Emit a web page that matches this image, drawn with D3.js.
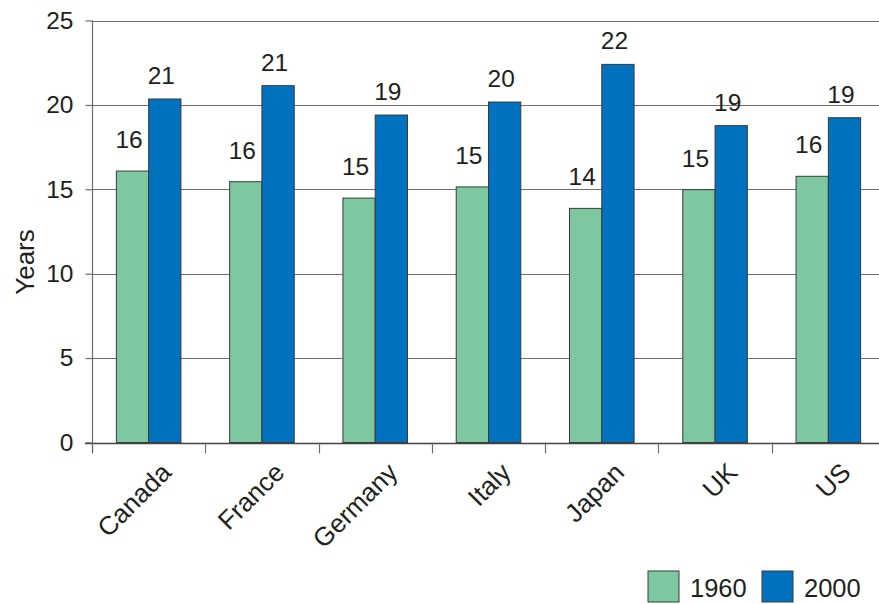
<!DOCTYPE html>
<html>
<head>
<meta charset="utf-8">
<script src="https://cdn.jsdelivr.net/npm/d3@7"></script>
<style>
  html, body { margin: 0; padding: 0; background: #fff; }
  svg { display: block; }
  text { font-family: "Liberation Sans", Arial, Helvetica, sans-serif; fill: #231f20; }
</style>
</head>
<body>
<svg id="chart" width="879" height="604"></svg>
<script>
const categories = ["Canada", "France", "Germany", "Italy", "Japan", "UK", "US"];
const seriesNames = ["1960", "2000"];
const values1960 = [16.08, 15.45, 14.48, 15.14, 13.87, 14.98, 15.77];
const values2000 = [20.35, 21.14, 19.40, 20.17, 22.40, 18.77, 19.24];
const labels1960 = ["16", "16", "15", "15", "14", "15", "16"];
const labels2000 = ["21", "21", "19", "20", "22", "19", "19"];
const yTicks = [0, 5, 10, 15, 20, 25];
const colors = ["#7dc8a0", "#0072bf"];

(function () {
const svg = d3.select("#chart");
const pLeft = 92, pRight = 885, pTop = 20.5, pBottom = 442.5;
const labelGap = [23, 15];

const x = d3.scaleBand().domain(categories).range([pLeft, pRight]).paddingInner(0).paddingOuter(0);
const y = d3.scaleLinear().domain([0, 25]).range([pBottom, pTop]);
const bw = x.bandwidth() * 0.285;
const sub = d3.scaleBand().domain(seriesNames).range([-bw, bw]);

// gridlines
svg.append("g").selectAll("line").data(yTicks.filter(d => d > 0)).join("line")
  .attr("x1", pLeft).attr("x2", 879)
  .attr("y1", d => Math.round(y(d)) + 0.5).attr("y2", d => Math.round(y(d)) + 0.5)
  .attr("stroke", "#6d6d6d").attr("stroke-width", 1.2);

// bars
const data = categories.map((c, i) => ({c, v: [values1960[i], values2000[i]], l: [labels1960[i], labels2000[i]]}));
const groups = svg.append("g").selectAll("g").data(data).join("g")
  .attr("transform", d => `translate(${x(d.c) + x.bandwidth() / 2},0)`);
groups.selectAll("rect").data(d => seriesNames.map((s, j) => ({s, j, v: d.v[j]}))).join("rect")
  .attr("x", d => sub(d.s)).attr("width", sub.bandwidth())
  .attr("y", d => y(d.v)).attr("height", d => y(0) - y(d.v))
  .attr("fill", d => colors[d.j]).attr("stroke", "#3a3a3a").attr("stroke-width", 1);
groups.selectAll("text").data(d => seriesNames.map((s, j) => ({s, j, v: d.v[j], l: d.l[j]}))).join("text")
  .attr("x", d => sub(d.s) + sub.bandwidth() / 2 - 3.5)
  .attr("y", d => y(d.v) - labelGap[d.j])
  .attr("text-anchor", "middle").attr("font-size", 24.5)
  .text(d => d.l);

// y axis
const yAxis = svg.append("g").attr("transform", `translate(${pLeft + 0.5},0)`)
  .call(d3.axisLeft(y).tickValues(yTicks).tickSize(7).tickPadding(12).tickFormat(d3.format("d")));
yAxis.select(".domain").attr("stroke", "#6d6d6d").attr("stroke-width", 1.2)
  .attr("d", `M0,${y(25)}V${y(0) + 10}`);
yAxis.selectAll(".tick line").attr("stroke", "#555");
yAxis.selectAll(".tick text").attr("font-size", 24.5).attr("font-family", "Liberation Sans, Arial, sans-serif").attr("fill", "#231f20");

// x baseline
svg.append("line").attr("x1", pLeft - 7).attr("x2", 879)
  .attr("y1", Math.round(y(0)) + 0.5).attr("y2", Math.round(y(0)) + 0.5)
  .attr("stroke", "#444").attr("stroke-width", 1.3);

// x ticks at band boundaries
svg.append("g").selectAll("line").data(categories).join("line")
  .attr("x1", d => Math.round(x(d)) + 0.5).attr("x2", d => Math.round(x(d)) + 0.5)
  .attr("y1", y(0)).attr("y2", y(0) + 11)
  .attr("stroke", "#6d6d6d").attr("stroke-width", 1.2);

// x labels
svg.append("g").selectAll("text").data(categories).join("text")
  .attr("transform", d => `translate(${x(d) + x.bandwidth() / 2 + 24},474) rotate(-45)`)
  .attr("text-anchor", "end").attr("font-size", 26)
  .text(d => d);

// y title
svg.append("text").attr("transform", "translate(34,262) rotate(-90)")
  .attr("text-anchor", "middle").attr("font-size", 26).text("Years");

// legend
const legend = svg.append("g");
const legX = [648, 762];
seriesNames.forEach((s, j) => {
  legend.append("rect").attr("x", legX[j]).attr("y", 571).attr("width", 31).attr("height", 31)
    .attr("fill", colors[j]).attr("stroke", "#3a3a3a").attr("stroke-width", 1);
  legend.append("text").attr("x", legX[j] + 42).attr("y", 597).attr("font-size", 25.5).text(s);
});
})();
</script>
</body>
</html>
